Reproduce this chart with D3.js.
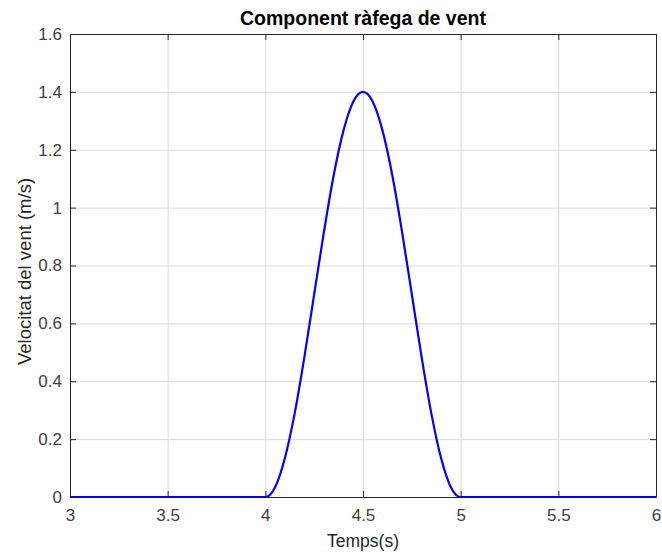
<!DOCTYPE html>
<html>
<head>
<meta charset="utf-8">
<script src="https://cdn.jsdelivr.net/npm/d3@7"></script>
<style>
	body { margin: 0; background: #fff; }
	svg { display: block; font-family: "Liberation Sans", Arial, sans-serif; }
</style>
</head>
<body>
<div id="container"></div>
<script>
// time (s) and wind gust speed (m/s)
const times = [3, 4, 4.05, 4.1, 4.15, 4.2, 4.25, 4.3, 4.35, 4.4, 4.45, 4.5,
	4.55, 4.6, 4.65, 4.7, 4.75, 4.8, 4.85, 4.9, 4.95, 5, 6];
const speeds = [0, 0, 0.034, 0.134, 0.288, 0.484, 0.70, 0.916, 1.112, 1.266, 1.366, 1.40,
	1.366, 1.266, 1.112, 0.916, 0.70, 0.484, 0.288, 0.134, 0.034, 0, 0];
const xTicks = [3, 3.5, 4, 4.5, 5, 5.5, 6];
const yTicks = [0, 0.2, 0.4, 0.6, 0.8, 1, 1.2, 1.4, 1.6];

const titleText = "Component ràfega de vent";
const xLabelText = "Temps(s)";
const yLabelText = "Velocitat del vent (m/s)";

drawChart();

function drawChart() {
	const width = 662;
	const height = 553;
	const margin = { top: 34, right: 6, bottom: 56, left: 70 };

	const data = times.map((t, i) => ({ t: t, v: speeds[i] }));

	const svg = d3
		.select("#container")
		.append("svg")
		.attr("width", width)
		.attr("height", height);

	const x = d3
		.scaleLinear()
		.domain([3, 6])
		.range([margin.left, width - margin.right]);

	const y = d3
		.scaleLinear()
		.domain([0, 1.6])
		.range([height - margin.bottom, margin.top]);

	const plotW = width - margin.left - margin.right;
	const plotH = height - margin.top - margin.bottom;

	// grid
	svg.append("g")
		.attr("transform", `translate(0, ${height - margin.bottom})`)
		.call(d3.axisBottom(x).tickValues(xTicks).tickSize(-plotH).tickFormat(""))
		.call((g) => g.select(".domain").remove())
		.selectAll("line")
		.attr("stroke", "#dcdcdc");

	svg.append("g")
		.attr("transform", `translate(${margin.left}, 0)`)
		.call(d3.axisLeft(y).tickValues(yTicks).tickSize(-plotW).tickFormat(""))
		.call((g) => g.select(".domain").remove())
		.selectAll("line")
		.attr("stroke", "#dcdcdc");

	// axes, ticks point inward like matlab
	const axisColor = "#262626";
	const styleAxis = (g) => {
		g.select(".domain").attr("stroke", axisColor);
		g.selectAll(".tick line").attr("stroke", axisColor);
		g.selectAll(".tick text")
			.attr("fill", "#404040")
			.style("font-size", "17px");
	};

	svg.append("g")
		.attr("transform", `translate(0, ${height - margin.bottom})`)
		.call(d3.axisBottom(x).tickValues(xTicks).tickSize(-6).tickSizeOuter(0).tickPadding(12).tickFormat(d3.format("")))
		.call(styleAxis)
		.attr("font-family", null);

	svg.append("g")
		.attr("transform", `translate(0, ${margin.top})`)
		.call(d3.axisTop(x).tickValues(xTicks).tickSize(-6).tickSizeOuter(0).tickFormat(""))
		.call(styleAxis);

	svg.append("g")
		.attr("transform", `translate(${margin.left}, 0)`)
		.call(d3.axisLeft(y).tickValues(yTicks).tickSize(-6).tickSizeOuter(0).tickPadding(8).tickFormat(d3.format("")))
		.call(styleAxis)
		.attr("font-family", null);

	svg.append("g")
		.attr("transform", `translate(${width - margin.right}, 0)`)
		.call(d3.axisRight(y).tickValues(yTicks).tickSize(-6).tickSizeOuter(0).tickFormat(""))
		.call(styleAxis);

	// gust line
	const line = d3
		.line()
		.x((d) => x(d.t))
		.y((d) => y(d.v))
		.curve(d3.curveMonotoneX);

	svg.append("path")
		.attr("d", line(data))
		.attr("fill", "none")
		.attr("stroke", "#0000ff")
		.attr("stroke-width", 2.2);

	// labels
	svg.append("text")
		.attr("x", (margin.left + width - margin.right) / 2)
		.attr("y", 25)
		.attr("text-anchor", "middle")
		.attr("font-weight", "bold")
		.attr("font-size", "19.5px")
		.attr("fill", "#000")
		.text(titleText);

	svg.append("text")
		.attr("x", (margin.left + width - margin.right) / 2)
		.attr("y", 547)
		.attr("text-anchor", "middle")
		.attr("font-size", "17.5px")
		.attr("fill", "#262626")
		.text(xLabelText);

	svg.append("text")
		.attr("transform", `translate(31, ${(margin.top + height - margin.bottom) / 2 + 6}) rotate(-90)`)
		.attr("text-anchor", "middle")
		.attr("font-size", "18.5px")
		.attr("fill", "#262626")
		.text(yLabelText);
}
</script>
</body>
</html>
